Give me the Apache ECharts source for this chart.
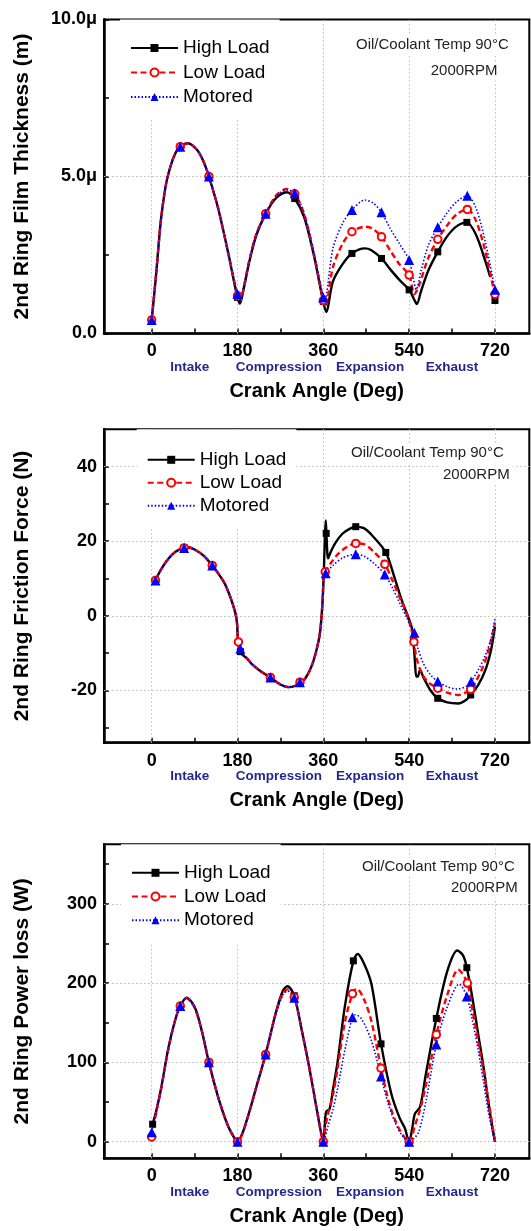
<!DOCTYPE html>
<html>
<head>
<meta charset="utf-8">
<script src="https://cdn.jsdelivr.net/npm/echarts@6/dist/echarts.min.js"></script>
<style>
  html, body { margin: 0; padding: 0; background: #fff; }
  #chart { width: 531px; height: 1231px; }
</style>
</head>
<body>
<div id="chart"></div>
<script>
// ---- shared labels ----
const seriesNames = ['High Load', 'Low Load', 'Motored'];
const phaseNames = ['Intake', 'Compression', 'Expansion', 'Exhaust'];
const phaseAngles = [80, 267, 458, 630];
const crankLabels = [0, 180, 360, 540, 720];
const crankTicks = [0, 90, 180, 270, 360, 450, 540, 630, 720];

// ---- 2nd ring film thickness (micrometre) ----
const filmTicks = [0, 2.5, 5, 7.5, 10];
const filmLabels = [0, 5, 10];
const filmHigh = [[0,0.43],[5,1.2],[10,2.0],[15,2.9],[20,3.7],[30,4.75],[40,5.35],[50,5.75],[60,5.95],[76,6.06],[95,5.85],[108,5.5],[120,5.0],[140,3.95],[160,2.6],[172,1.7],[180,1.15],[185,0.95],[192,1.35],[205,2.3],[220,3.15],[239,3.81],[260,4.3],[283,4.5],[300,4.3],[320,3.7],[340,2.5],[352,1.6],[360,1.0],[366,0.69],[380,1.65],[400,2.2],[420,2.55],[447,2.71],[460,2.66],[482,2.39],[500,2.05],[520,1.7],[540,1.39],[550,1.1],[556,0.94],[565,1.35],[580,2.0],[600,2.6],[620,3.1],[640,3.42],[661,3.54],[680,3.15],[700,2.3],[710,1.8]];
const filmLow = [[0,0.43],[5,1.2],[10,2.0],[15,2.9],[20,3.7],[30,4.75],[40,5.35],[50,5.75],[60,5.95],[76,6.06],[95,5.85],[108,5.5],[120,5.0],[140,3.95],[160,2.6],[172,1.75],[180,1.2],[186,1.05],[193,1.45],[205,2.35],[220,3.2],[239,3.81],[260,4.38],[283,4.6],[300,4.45],[320,3.8],[340,2.55],[352,1.65],[360,1.05],[364,0.85],[380,2.1],[400,2.85],[420,3.24],[447,3.4],[462,3.35],[482,3.08],[500,2.65],[520,2.2],[540,1.86],[551,1.25],[560,1.5],[580,2.4],[600,3.0],[620,3.45],[640,3.8],[662,3.95],[680,3.6],[700,2.6],[720,1.2]];
const filmMotored = [[0,0.43],[5,1.2],[10,2.0],[15,2.9],[20,3.7],[30,4.75],[40,5.35],[50,5.75],[60,5.95],[76,6.06],[95,5.85],[108,5.5],[120,5.0],[140,3.95],[160,2.6],[172,1.8],[180,1.26],[186,1.15],[193,1.5],[205,2.35],[220,3.2],[239,3.81],[260,4.35],[283,4.57],[300,4.47],[320,3.8],[340,2.6],[352,1.7],[360,1.15],[363,1.1],[380,2.7],[400,3.5],[420,3.93],[447,4.25],[465,4.15],[482,3.86],[500,3.35],[520,2.85],[540,2.34],[548,1.8],[555,1.4],[565,2.0],[580,2.8],[600,3.38],[620,3.85],[640,4.2],[662,4.39],[680,4.0],[700,2.9],[720,1.39]];
const filmHighMarks = [[0,0.43],[60,5.95],[120,5.0],[180,1.15],[239,3.81],[300,4.3],[360,1.02],[420,2.55],[482,2.39],[540,1.39],[600,2.6],[661,3.54],[720,1.05]];
const filmLowMarks = [[0,0.43],[60,5.95],[120,5.0],[180,1.2],[239,3.81],[300,4.45],[360,1.05],[420,3.24],[482,3.08],[540,1.86],[600,3.0],[662,3.95],[720,1.25]];
const filmMotoredMarks = [[0,0.43],[60,5.95],[120,5.0],[180,1.26],[239,3.81],[300,4.47],[360,1.15],[420,3.93],[482,3.86],[540,2.34],[600,3.38],[662,4.39],[720,1.39]];

// ---- 2nd ring friction force (N) ----
const forceTicks = [-30, -20, -10, 0, 10, 20, 30, 40];
const forceLabels = [-20, 0, 20, 40];
const forceHigh = [[8,9.5],[20,12.5],[35,15.3],[50,17.2],[68,18.2],[75,18.4],[90,17.8],[110,16.0],[127,13.5],[140,11.3],[153,8.7],[165,5.0],[175,1.0],[179,-2],[181,-6.5],[185,-9.6],[200,-11.5],[213,-13.3],[230,-15],[249,-16.5],[270,-18.4],[287,-19.1],[300,-18.8],[311,-17.8],[321,-17],[335,-13.6],[345,-9.5],[353,-4.5],[358,3],[361,11.5],[363,20],[365,25.6],[366.5,22],[370,15.4],[375,17],[385,19.5],[400,22],[415,23.3],[428,23.9],[445,23.5],[462,21.6],[491,17.0],[510,10],[525,4],[545,-2.9],[549,-6.9],[552,-12],[555,-16.3],[558,-16.3],[563,-14.5],[570,-16.5],[585,-20],[600,-22.1],[620,-23.2],[643,-23.5],[660,-22.5],[669,-21.2],[685,-18.5],[700,-14.5],[712,-9],[720,-2.9]];
const forceLow = [[8,9.5],[20,12.5],[35,15.3],[50,17.2],[68,18.2],[75,18.4],[90,17.8],[110,16.0],[127,13.5],[140,11.3],[153,8.7],[165,5.0],[175,1.0],[179,-2],[181,-6.5],[185,-9.3],[200,-11.4],[213,-13.2],[230,-15],[249,-16.5],[270,-18.4],[287,-19.1],[300,-18.8],[311,-17.8],[321,-17],[335,-13.6],[345,-9.5],[353,-4.5],[358,3],[361,11],[364,11.8],[375,14],[390,16.5],[410,18.5],[428,19.4],[445,19.2],[465,17.3],[489,13.8],[505,9.5],[520,5],[535,0.5],[545,-3.9],[550,-7],[555,-11],[565,-15],[580,-17.8],[600,-19.4],[620,-20.6],[643,-21.2],[669,-19.7],[680,-17.5],[692,-14.5],[705,-10],[720,-1.9]];
const forceMotored = [[8,9.5],[20,12.5],[35,15.3],[50,17.2],[68,18.2],[75,18.4],[90,17.8],[110,16.0],[127,13.5],[140,11.3],[153,8.7],[165,5.0],[175,1.0],[179,-2],[181,-6.5],[185,-9.0],[200,-11.3],[213,-13.2],[230,-15],[249,-16.5],[270,-18.4],[287,-19.1],[300,-18.8],[311,-17.8],[321,-17],[335,-13.6],[345,-9.5],[353,-4.5],[358,3],[361,11],[365,11.4],[380,13.5],[400,15.5],[428,16.5],[445,16.0],[465,14.2],[489,11.1],[505,7.5],[520,3.5],[535,-0.5],[545,-3.5],[551,-4.5],[558,-8.5],[570,-12.8],[585,-15.8],[600,-17.6],[620,-19.0],[641,-19.6],[660,-18.9],[670,-17.6],[685,-14.5],[700,-10.5],[712,-6],[720,-0.7]];
const forceHighMarks = [[8,9.5],[68,18.2],[127,13.5],[186,-9.6],[249,-16.5],[311,-17.8],[366,22.1],[428,23.9],[491,17.0],[549,-6.9],[600,-22.1],[669,-21.2]];
const forceLowMarks = [[8,9.5],[68,18.2],[127,13.5],[182,-7],[249,-16.5],[311,-17.8],[364,11.8],[428,19.4],[489,13.8],[550,-7],[600,-19.4],[669,-19.7]];
const forceMotoredMarks = [[8,9.5],[68,18.2],[127,13.5],[186,-8.8],[249,-16.5],[311,-17.8],[365,11.4],[428,16.5],[489,11.1],[551,-4.5],[600,-17.6],[670,-17.6]];

// ---- 2nd ring power loss (W) ----
const powerTicks = [0, 50, 100, 150, 200, 250, 300, 350];
const powerLabels = [0, 100, 200, 300];
const powerHigh = [[2,22],[10,40],[20,68],[35,118],[50,155],[60,171],[73,181.5],[90,170],[105,140],[120,100],[140,55],[160,20],[175,3],[180,0],[190,10],[205,38],[220,70],[239,110],[260,162],[275,190],[285,196],[299,184],[315,140],[330,95],[345,45],[355,12],[360,0],[363,20],[366,38],[373,41],[380,65],[390,101],[405,170],[423,228],[432,236.6],[445,225],[461,198.6],[481,123.3],[503,59.5],[520,30],[531,17],[540,0],[546,15],[552,35],[563,44],[575,85],[597,155.4],[620,215],[641,241],[653,235],[661,219.4],[673,180],[685,135],[697,90],[706,50.6],[714,20],[720,0]];
const powerLow = [[0,6],[10,38],[20,67],[35,117],[50,155],[60,171],[73,181],[90,169],[105,140],[120,100],[140,55],[160,20],[175,3],[180,0],[190,10],[205,38],[220,70],[239,110],[260,161],[275,187],[285,192],[299,182],[315,140],[330,95],[345,45],[355,12],[360,0],[364,17],[370,35],[380,58],[390,93],[405,150],[421,186.5],[430,193],[445,180],[461,151.6],[481,92.7],[500,45],[520,15],[540,0],[552,20],[565,45],[580,85],[597,135],[620,185],[643,217],[662,200],[673,165],[685,126],[700,75],[710,38],[720,0]];
const powerMotored = [[0,12],[10,39],[20,67],[35,117],[50,155],[60,171],[73,181],[90,169],[105,140],[120,100],[140,55],[160,20],[175,3],[180,0],[190,10],[205,38],[220,70],[239,110],[260,160],[275,185],[285,190],[299,181.5],[315,140],[330,95],[345,45],[355,12],[360,0],[370,20],[380,40],[390,67],[405,115],[421,157],[427,160],[440,155],[461,127],[481,82.3],[495,50],[510,25],[525,8],[540,0],[550,4],[560,12],[575,50],[597,122.4],[620,170],[645,198.5],[661,183],[673,152],[685,114.6],[696,75],[706,38],[715,12],[720,0]];
const powerHighMarks = [[2,22],[60,171],[120,100],[180,0],[239,110],[299,184],[360,0],[423,228],[481,123.3],[540,0],[597,155.4],[661,219.4]];
const powerLowMarks = [[0,6],[60,171],[120,100],[180,0],[239,110],[299,182],[360,0],[421,186.5],[481,92.7],[540,0],[597,135],[662,200]];
const powerMotoredMarks = [[0,12],[60,171],[120,100],[180,0],[239,110],[299,181.5],[360,0],[421,157],[481,82.3],[540,0],[597,122.4],[661,183]];

// ---- drawing ----
const FONT = '"Liberation Sans", Arial, Helvetica, sans-serif';
const PHASE_COLOR = '#26268c';
const GRID_LINE = '#bcbcbc';

const styles = [
  { color: '#000000', width: 2.4, type: 'solid', symbol: 'rect', size: 7 },
  { color: '#ff0000', width: 2.4, type: [6, 3.5], symbol: 'emptyCircle', size: 7.5 },
  { color: '#0000ff', width: 1.6, type: [1.5, 2], symbol: 'triangle', size: 10 }
];

const panels = [
  {
    top: 19.5, height: 314, min: 0, max: 10,
    title: '2nd Ring Film Thickness (m)',
    ticks: filmTicks, labels: filmLabels, gridY: [5],
    fmt: v => (v === 0 ? '0.0' : v.toFixed(1) + 'μ'),
    curves: [filmHigh, filmLow, filmMotored],
    marks: [filmHighMarks, filmLowMarks, filmMotoredMarks],
    legend: { left: 120, top: 19.5, pad: [19, 10, 12, 10], gap: 5.5 },
    note: [[353, 45], [427.7, 71]]
  },
  {
    top: 429.3, height: 313.4, min: -34, max: 50,
    title: '2nd Ring Friction Force (N)',
    ticks: forceTicks, labels: forceLabels, gridY: [40, 20, 0, -20],
    fmt: v => String(v),
    curves: [forceHigh, forceLow, forceMotored],
    marks: [forceHighMarks, forceLowMarks, forceMotoredMarks],
    legend: { left: 136.7, top: 429.3, pad: [21, 10, 12, 10], gap: 4 },
    note: [[348, 453.3], [440, 475]]
  },
  {
    top: 844.3, height: 314, min: -21, max: 375,
    title: '2nd Ring Power loss (W)',
    ticks: powerTicks, labels: powerLabels, gridY: [300, 200, 100, 0],
    fmt: v => String(v),
    curves: [powerHigh, powerLow, powerMotored],
    marks: [powerHighMarks, powerLowMarks, powerMotoredMarks],
    legend: { left: 121, top: 844.3, pad: [19, 10, 14, 10], gap: 4.7 },
    note: [[359, 866.7], [448, 888.3]]
  }
];

const X_MIN = -100, X_MAX = 792;
const GRID_LEFT = 104, GRID_WIDTH = 425.3;

const grid = [], xAxis = [], yAxis = [], series = [], legend = [], graphic = [];

panels.forEach((p, i) => {
  grid.push({
    left: GRID_LEFT, width: GRID_WIDTH, top: p.top, height: p.height,
    show: true, borderColor: '#000', borderWidth: 2,
    containLabel: false, outerBoundsMode: 'none'
  });

  // crank angle axis
  xAxis.push({
    gridIndex: i, type: 'value', min: X_MIN, max: X_MAX, position: 'bottom',
    axisLine: { show: true, onZero: false, lineStyle: { color: '#000', width: 2.5 } },
    axisTick: { show: true, inside: true, length: 5, customValues: crankTicks, lineStyle: { color: '#000', width: 1.5 } },
    axisLabel: { customValues: crankLabels, margin: 9, fontFamily: FONT, fontSize: 18, fontWeight: 'bold', color: '#000' },
    splitLine: { show: false },
    name: 'Crank Angle (Deg)', nameLocation: 'middle', nameGap: 48,
    nameTextStyle: { fontFamily: FONT, fontSize: 20, fontWeight: 'bold', color: '#000' }
  });

  yAxis.push({
    gridIndex: i, type: 'value', min: p.min, max: p.max,
    axisLine: { show: true, onZero: false, lineStyle: { color: '#000', width: 2.5 } },
    axisTick: { show: true, inside: true, length: 5, customValues: p.ticks, lineStyle: { color: '#000', width: 1.5 } },
    axisLabel: { customValues: p.labels, formatter: p.fmt, margin: 7, fontFamily: FONT, fontSize: 18, fontWeight: 'bold', color: '#000' },
    splitLine: { show: false },
    name: p.title, nameLocation: 'middle', nameGap: 71,
    nameTextStyle: { fontFamily: FONT, fontSize: 21, fontWeight: 'bold', color: '#000' }
  });

  // dotted reference lines at the labelled crank angles and values
  const refLines = crankLabels.map(v => ({ xAxis: v })).concat(p.gridY.map(v => ({ yAxis: v })));

  p.curves.forEach((curve, k) => {
    const st = styles[k];
    const s = {
      type: 'line', name: seriesNames[k], xAxisIndex: i, yAxisIndex: i,
      data: curve, smooth: 0.3, showSymbol: false, symbol: st.symbol, symbolSize: st.size,
      lineStyle: { color: st.color, width: st.width, type: st.type },
      itemStyle: { color: st.color },
      emphasis: { disabled: true }, z: 3
    };
    if (k === 0) {
      s.markLine = {
        silent: true, symbol: ['none', 'none'], label: { show: false }, z: 1,
        lineStyle: { color: GRID_LINE, type: [1.5, 2.5], width: 1 },
        emphasis: { disabled: true }, data: refLines
      };
    }
    series.push(s);
  });
  p.marks.forEach((m, k) => {
    const st = styles[k];
    series.push({
      type: 'scatter', name: seriesNames[k], xAxisIndex: i, yAxisIndex: i,
      data: m, symbol: st.symbol, symbolSize: st.size,
      itemStyle: { color: st.color, borderColor: st.color, borderWidth: st.symbol === 'emptyCircle' ? 1.3 : 0, opacity: 1 },
      emphasis: { disabled: true }, z: 4
    });
  });

  legend.push({
    orient: 'vertical', left: p.legend.left, top: p.legend.top,
    padding: p.legend.pad, backgroundColor: '#fff',
    itemWidth: 47, itemHeight: 10, itemGap: p.legend.gap,
    data: seriesNames, selectedMode: false, z: 10,
    textStyle: { fontFamily: FONT, fontSize: 19, color: '#000' }
  });

  graphic.push({
    type: 'text', x: p.note[0][0], y: p.note[0][1], z: 10,
    style: { text: 'Oil/Coolant Temp 90°C', font: '15px ' + FONT, fill: '#222', verticalAlign: 'middle', backgroundColor: '#fff', padding: [2, 3] }
  });
  graphic.push({
    type: 'text', x: p.note[1][0], y: p.note[1][1], z: 10,
    style: { text: '2000RPM', font: '15px ' + FONT, fill: '#222', verticalAlign: 'middle', backgroundColor: '#fff', padding: [2, 3] }
  });
});

// stroke phase names under the crank angle labels
panels.forEach((p, i) => {
  xAxis.push({
    gridIndex: i, type: 'value', min: X_MIN, max: X_MAX, position: 'bottom', offset: 0,
    axisLine: { show: false }, axisTick: { show: false }, splitLine: { show: false },
    axisLabel: {
      customValues: phaseAngles, margin: 27,
      formatter: v => phaseNames[phaseAngles.indexOf(v)],
      fontFamily: FONT, fontSize: 13.5, fontWeight: 'bold', color: PHASE_COLOR
    }
  });
});

const chart = echarts.init(document.getElementById('chart'), null, { renderer: 'canvas' });
chart.setOption({
  animation: false,
  backgroundColor: '#fff',
  grid, xAxis, yAxis, series, legend, graphic
});
</script>
</body>
</html>
